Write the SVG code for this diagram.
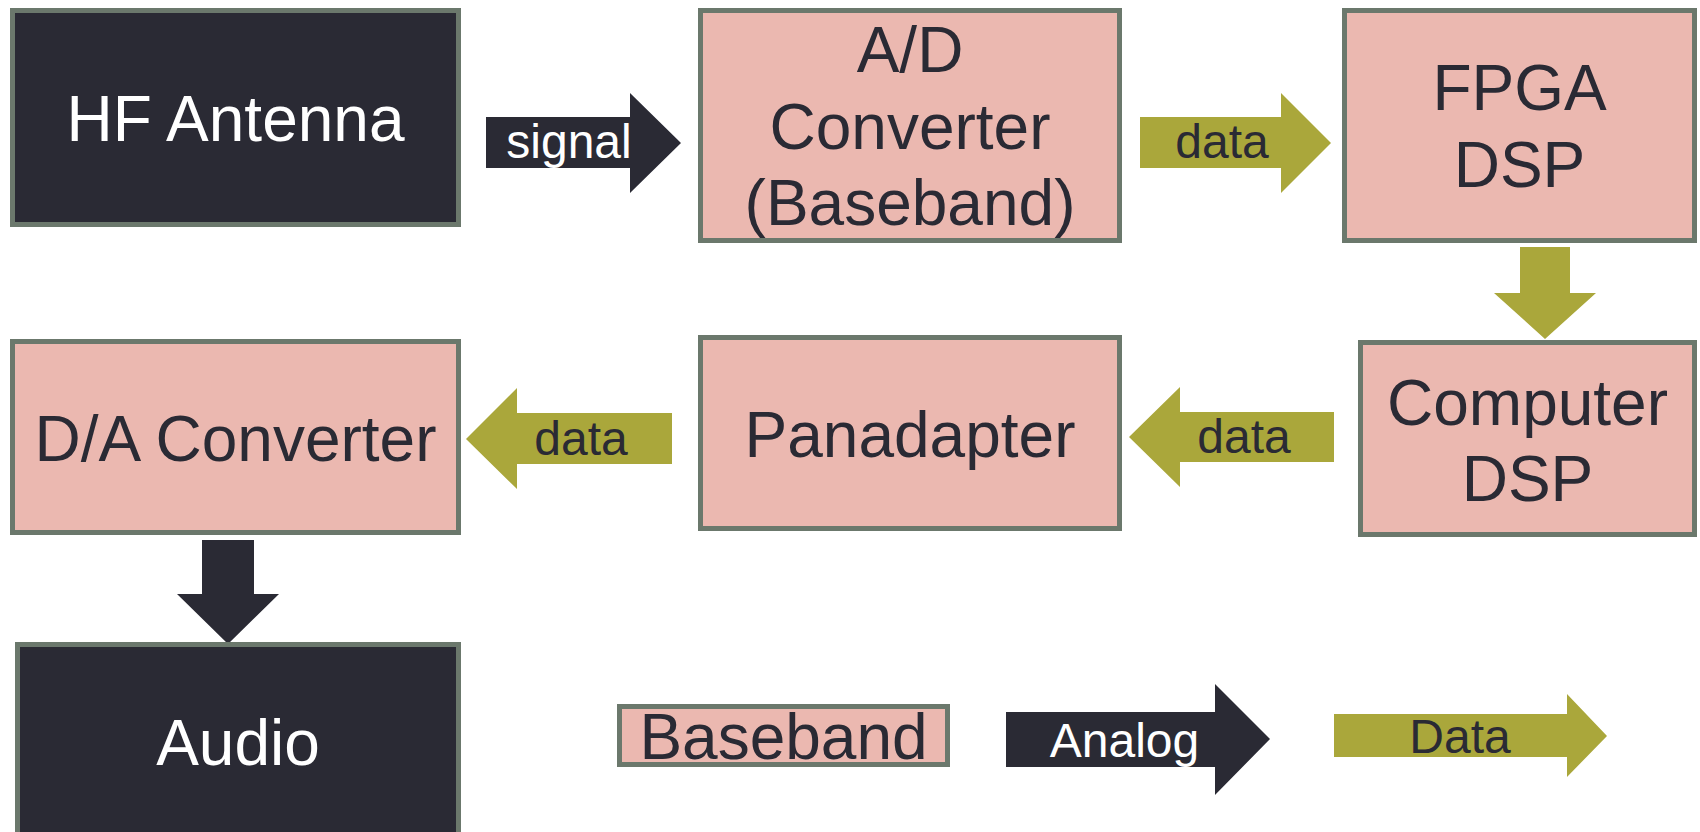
<svg xmlns="http://www.w3.org/2000/svg" width="1700" height="832" viewBox="0 0 1700 832">
  <style>
    .box { stroke: #6b786c; stroke-width: 5; }
    .dark { fill: #2a2a34; }
    .pink { fill: #ebb8b0; }
    .olive { fill: #aaa73b; }
    .t { font-family: "Liberation Sans", Arial, sans-serif; font-size: 64px; text-anchor: middle; }
    .s { font-family: "Liberation Sans", Arial, sans-serif; font-size: 48px; text-anchor: middle; }
    .w { fill: #ffffff; }
    .k { fill: #2a2a34; }
  </style>
  <rect width="1700" height="832" fill="#ffffff"/>

  <g id="connectors">
    <g id="signal-arrow">
      <polygon class="dark" points="486,117 630,117 630,93 681,143 630,193 630,168 486,168"/>
      <text class="s w" x="569" y="158">signal</text>
    </g>
    <g id="data-arrow-1">
      <polygon class="olive" points="1140,117 1281,117 1281,93 1331,143 1281,193 1281,168 1140,168"/>
      <text class="s k" x="1222" y="158">data</text>
    </g>
    <g id="down-arrow-1">
      <polygon class="olive" points="1520,247 1570,247 1570,293 1596,293 1545,339 1494,293 1520,293"/>
    </g>
    <g id="data-arrow-2">
      <polygon class="olive" points="1334,412 1180,412 1180,387 1129,437 1180,487 1180,462 1334,462"/>
      <text class="s k" x="1244" y="453">data</text>
    </g>
    <g id="data-arrow-3">
      <polygon class="olive" points="672,413 517,413 517,388 466,439 517,489 517,464 672,464"/>
      <text class="s k" x="581" y="455">data</text>
    </g>
    <g id="down-arrow-2">
      <polygon class="dark" points="202,540 254,540 254,594 279,594 228,644 177,594 202,594"/>
    </g>
  </g>

  <g id="hf-antenna">
    <rect class="box dark" x="12.5" y="10.5" width="446" height="214"/>
    <text class="t w" x="235.5" y="141">HF Antenna</text>
  </g>
  <g id="ad-converter">
    <rect class="box pink" x="700.5" y="10.5" width="419" height="230"/>
    <text class="t k" x="910" y="72">A/D</text>
    <text class="t k" x="910" y="149">Converter</text>
    <text class="t k" x="910" y="225">(Baseband)</text>
  </g>
  <g id="fpga-dsp">
    <rect class="box pink" x="1344.5" y="10.5" width="350" height="230"/>
    <text class="t k" x="1519.5" y="110">FPGA</text>
    <text class="t k" x="1519.5" y="187">DSP</text>
  </g>
  <g id="computer-dsp">
    <rect class="box pink" x="1360.5" y="342.5" width="334" height="192"/>
    <text class="t k" x="1527.5" y="425">Computer</text>
    <text class="t k" x="1527.5" y="501">DSP</text>
  </g>
  <g id="panadapter">
    <rect class="box pink" x="700.5" y="337.5" width="419" height="191"/>
    <text class="t k" x="910" y="457">Panadapter</text>
  </g>
  <g id="da-converter">
    <rect class="box pink" x="12.5" y="341.5" width="446" height="191"/>
    <text class="t k" x="235.5" y="461">D/A Converter</text>
  </g>
  <g id="audio">
    <rect class="box dark" x="17.5" y="644.5" width="441" height="200"/>
    <text class="t w" x="238" y="765">Audio</text>
  </g>

  <g id="legend">
    <g id="legend-baseband">
      <rect class="box pink" x="619.5" y="706.5" width="328" height="58"/>
      <text class="t k" x="783.5" y="759">Baseband</text>
    </g>
    <g id="legend-analog">
      <polygon class="dark" points="1006,712 1215,712 1215,684 1270,739 1215,795 1215,767 1006,767"/>
      <text class="s w" x="1124.5" y="757">Analog</text>
    </g>
    <g id="legend-data">
      <polygon class="olive" points="1334,714 1567,714 1567,694 1607,736 1567,777 1567,757 1334,757"/>
      <text class="s k" x="1460" y="753">Data</text>
    </g>
  </g>
</svg>
